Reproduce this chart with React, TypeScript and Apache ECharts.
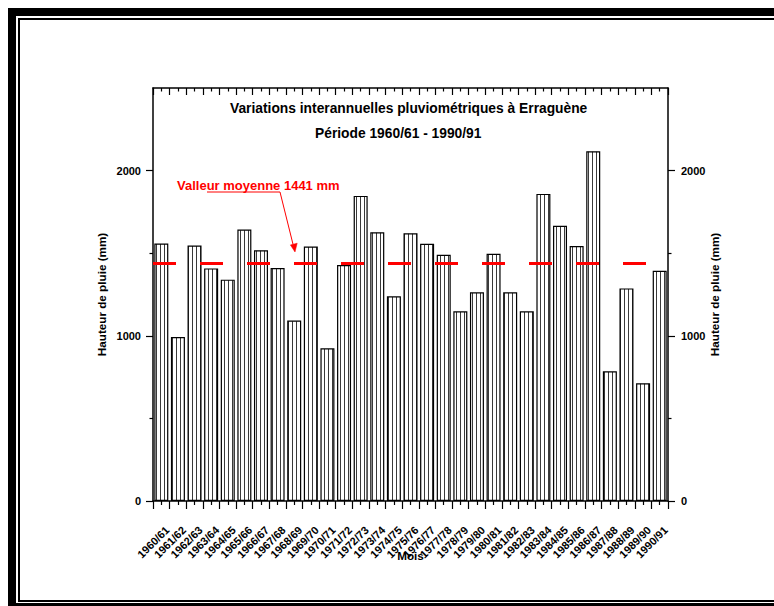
import React, { useEffect, useRef } from "react";
import * as echarts from "echarts";

// Hydrological years (Sept–Aug) at the Erraguène station
const years = [
  "1960/61", "1961/62", "1962/63", "1963/64", "1964/65", "1965/66", "1966/67", "1967/68",
  "1968/69", "1969/70", "1970/71", "1971/72", "1972/73", "1973/74", "1974/75", "1975/76",
  "1976/77", "1977/78", "1978/79", "1979/80", "1980/81", "1981/82", "1982/83", "1983/84",
  "1984/85", "1985/86", "1986/87", "1987/88", "1988/89", "1989/90", "1990/91",
];

// Annual rainfall depth (mm)
const rainfall = [
  1559, 993, 1547, 1408, 1340, 1643, 1518, 1410,
  1092, 1541, 924, 1429, 1847, 1627, 1239, 1621,
  1557, 1490, 1148, 1263, 1497, 1263, 1148, 1859,
  1666, 1543, 2117, 785, 1287, 713, 1394,
];

const meanRainfall = 1441;

const majorTicks = [0, 1000, 2000];
const minorTicks = [500, 1500];

const FONT = 'Arial, "Liberation Sans", Helvetica, sans-serif';

function stripePattern(): HTMLCanvasElement {
  const c = document.createElement("canvas");
  c.width = 4;
  c.height = 4;
  const ctx = c.getContext("2d")!;
  ctx.fillStyle = "#ffffff";
  ctx.fillRect(0, 0, 4, 4);
  ctx.fillStyle = "#3a3a3a";
  ctx.fillRect(0, 0, 1, 4);
  return c;
}

export default function App() {
  const ref = useRef<HTMLDivElement>(null);

  useEffect(() => {
    if (!ref.current) return;
    const chart = echarts.init(ref.current, null, { renderer: "svg" });

    const axisLine = { show: true, onZero: false, lineStyle: { color: "#000", width: 1.5 } };
    const noLine = { show: false, onZero: false };
    const tickStyle = { color: "#000", width: 1.2 };
    const labelStyle = { color: "#000", fontWeight: "bold" as const, fontSize: 11, fontFamily: FONT };
    const nameStyle = { color: "#000", fontWeight: "bold" as const, fontSize: 11.7, fontFamily: FONT };
    const plain = (v: number) => String(v);

    const yCommon = {
      type: "value" as const,
      min: 0,
      max: 2500,
      interval: 500,
      splitLine: { show: false },
    };

    const option: any = {
      animation: false,
      backgroundColor: "#ffffff",
      grid: { left: 153, right: 106, top: 88, bottom: 105, containLabel: false },
      xAxis: [
        {
          type: "category",
          data: years,
          position: "bottom",
          boundaryGap: true,
          axisLine,
          axisTick: { show: false },
          axisLabel: {
            ...labelStyle,
            rotate: 45,
            interval: 0,
            margin: 21,
            verticalAlign: "top",
            padding: [3, 0, 0, 0],
          },
          name: "Mois",
          nameLocation: "middle",
          nameGap: 48,
          nameMoveOverlap: false,
          nameTextStyle: nameStyle,
        },
        {
          type: "value",
          min: 0,
          max: years.length,
          interval: 1,
          position: "bottom",
          axisLine: noLine,
          axisTick: { show: true, length: 8, lineStyle: tickStyle },
          minorTick: { show: true, splitNumber: 2, length: 4, lineStyle: tickStyle },
          axisLabel: { show: false },
          splitLine: { show: false },
        },
        {
          type: "value",
          min: 0,
          max: years.length,
          interval: 1,
          position: "top",
          axisLine,
          axisTick: { show: true, inside: true, length: 7, lineStyle: tickStyle },
          minorTick: { show: true, splitNumber: 2, length: 3.5, lineStyle: tickStyle },
          axisLabel: { show: false },
          splitLine: { show: false },
        },
      ],
      yAxis: [
        {
          ...yCommon,
          position: "left",
          axisLine,
          axisTick: { show: true, length: 7, customValues: majorTicks, lineStyle: tickStyle },
          axisLabel: { ...labelStyle, margin: 12, customValues: majorTicks, formatter: plain },
          name: "Hauteur de pluie (mm)",
          nameLocation: "middle",
          nameGap: 45.5,
          nameMoveOverlap: false,
          nameTextStyle: nameStyle,
        },
        {
          ...yCommon,
          position: "left",
          axisLine: noLine,
          axisTick: { show: true, length: 3.5, customValues: minorTicks, lineStyle: tickStyle },
          axisLabel: { show: false },
        },
        {
          ...yCommon,
          position: "right",
          axisLine,
          axisTick: { show: true, length: 7, customValues: majorTicks, lineStyle: tickStyle },
          axisLabel: { ...labelStyle, margin: 13, customValues: majorTicks, formatter: plain },
          name: "Hauteur de pluie (mm)",
          nameLocation: "middle",
          nameGap: 40,
          nameMoveOverlap: false,
          nameTextStyle: nameStyle,
        },
        {
          ...yCommon,
          position: "right",
          axisLine: noLine,
          axisTick: { show: true, length: 3.5, customValues: minorTicks, lineStyle: tickStyle },
          axisLabel: { show: false },
        },
      ],
      series: [
        {
          type: "bar",
          xAxisIndex: 0,
          yAxisIndex: 0,
          data: rainfall,
          barWidth: 14,
          itemStyle: {
            color: { image: stripePattern(), repeat: "repeat" },
            borderColor: "#000",
            borderWidth: 1.2,
          },
          markLine: {
            silent: true,
            symbol: ["none", "none"],
            label: { show: false },
            lineStyle: { color: "#ff0000", width: 3, type: [23, 24], cap: "butt" },
            data: [{ yAxis: meanRainfall }],
          },
        },
      ],
      graphic: [
        // double frame around the figure
        { type: "rect", shape: { x: 8, y: 8, width: 800, height: 8 }, style: { fill: "#000" } },
        { type: "rect", shape: { x: 8, y: 8, width: 8, height: 620 }, style: { fill: "#000" } },
        { type: "rect", shape: { x: 8, y: 603, width: 800, height: 10 }, style: { fill: "#000" } },
        { type: "rect", shape: { x: 18, y: 18, width: 800, height: 2 }, style: { fill: "#000" } },
        { type: "rect", shape: { x: 18, y: 18, width: 2, height: 584 }, style: { fill: "#000" } },
        { type: "rect", shape: { x: 18, y: 600, width: 800, height: 2 }, style: { fill: "#000" } },
        // titles
        {
          type: "text",
          x: 230,
          y: 108,
          style: {
            text: "Variations interannuelles pluviométriques à Erraguène",
            font: `bold 13.8px ${FONT}`,
            fill: "#000",
            align: "left",
            verticalAlign: "middle",
          },
        },
        {
          type: "text",
          x: 315,
          y: 133,
          style: {
            text: "Période 1960/61 - 1990/91",
            font: `bold 13.8px ${FONT}`,
            fill: "#000",
            align: "left",
            verticalAlign: "middle",
          },
        },
        // mean annotation with arrow
        {
          type: "text",
          x: 177,
          y: 185,
          style: {
            text: `Valleur moyenne ${meanRainfall} mm`,
            font: `bold 13px ${FONT}`,
            fill: "#ff0000",
            align: "left",
            verticalAlign: "middle",
          },
        },
        {
          type: "polyline",
          shape: { points: [[207, 192], [280, 192], [293.2, 245]] },
          style: { stroke: "#ff0000", lineWidth: 1, fill: "none" },
        },
        {
          type: "polygon",
          shape: { points: [[295, 252], [297.2, 243.2], [290.4, 244.9]] },
          style: { fill: "#ff0000", stroke: "#ff0000", lineWidth: 0.5 },
        },
      ],
    };

    chart.setOption(option);
    return () => chart.dispose();
  }, []);

  return (
    <div
      ref={ref}
      style={{ position: "fixed", left: 0, top: 0, width: 774, height: 606, background: "#fff" }}
    />
  );
}
